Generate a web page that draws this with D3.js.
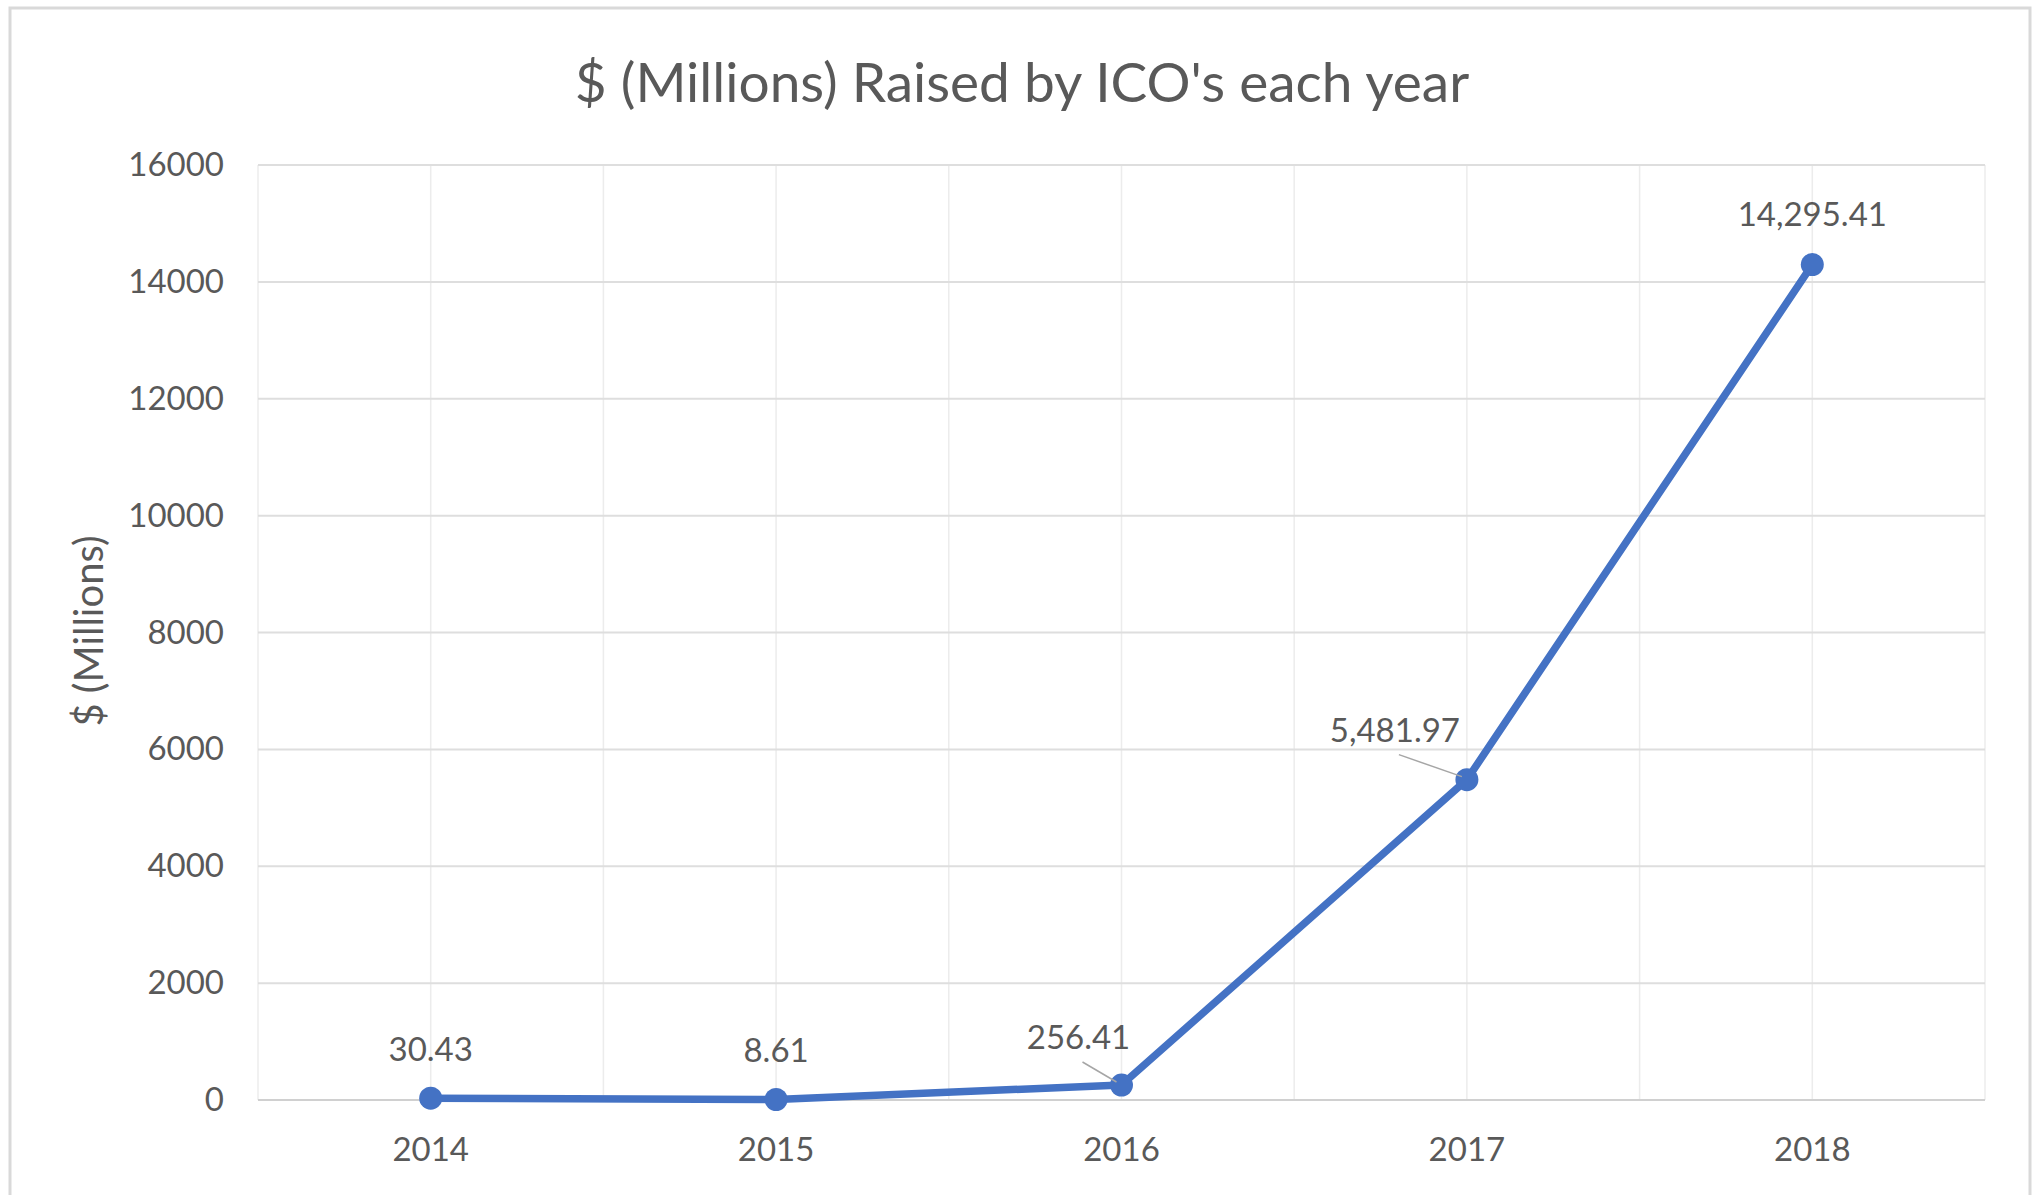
<!DOCTYPE html>
<meta charset="utf-8">
<style>
body { margin: 0; background: #fff; }
text { font-family: Lato, "Open Sans", sans-serif; fill: #595959; }
</style>
<svg width="2041" height="1195"></svg>
<script src="https://d3js.org/d3.v7.min.js"></script>
<script>
// chart data
var years = ["2014", "2015", "2016", "2017", "2018"];
var raised = [30.43, 8.61, 256.41, 5481.97, 14295.41];
var yTicks = [0, 2000, 4000, 6000, 8000, 10000, 12000, 14000, 16000];
var titleText = "$ (Millions) Raised by ICO's each year";
var yTitle = "$ (Millions)";

var svg = d3.select("svg"),
    width = +svg.attr("width"),
    height = +svg.attr("height");

// plot area
var plotLeft = 258, plotRight = 1985, plotTop = 165, plotBottom = 1100;

// outer chart border
svg.append("rect")
    .attr("x", 10).attr("y", 8)
    .attr("width", 2020).attr("height", 1200)
    .attr("fill", "none")
    .attr("stroke", "#d9d9d9")
    .attr("stroke-width", 3);

var x = d3.scaleBand().domain(years).range([plotLeft, plotRight]).padding(0);
var y = d3.scaleLinear().domain([0, 16000]).range([plotBottom, plotTop]);
var cx = function(d) { return x(d) + x.bandwidth() / 2; };

// vertical gridlines at category centres and boundaries
var vlines = [];
years.forEach(function(d) { vlines.push(x(d)); vlines.push(cx(d)); });
vlines.push(plotRight);
svg.append("g")
  .selectAll("line")
  .data(vlines)
  .enter().append("line")
    .attr("x1", function(d) { return d; })
    .attr("x2", function(d) { return d; })
    .attr("y1", plotTop).attr("y2", plotBottom)
    .attr("stroke", "#ececec")
    .attr("stroke-width", 1.5);

// horizontal gridlines
svg.append("g")
  .selectAll("line")
  .data(yTicks)
  .enter().append("line")
    .attr("x1", plotLeft).attr("x2", plotRight)
    .attr("y1", function(d) { return y(d); })
    .attr("y2", function(d) { return y(d); })
    .attr("stroke", function(d) { return d === 0 ? "#d0d0d0" : "#dedede"; })
    .attr("stroke-width", 2);

// y axis labels
var yAxis = d3.axisLeft(y).tickValues(yTicks).tickSize(0).tickPadding(34)
    .tickFormat(d3.format("d"));
var gy = svg.append("g").attr("transform", "translate(" + plotLeft + ",0)").call(yAxis);
gy.select(".domain").remove();
gy.selectAll("text").style("font-size", "33px").attr("fill", "#595959");

// x axis labels
var xAxis = d3.axisBottom(x).tickSize(0).tickPadding(38);
var gx = svg.append("g").attr("transform", "translate(0," + plotBottom + ")").call(xAxis);
gx.select(".domain").remove();
gx.selectAll("text").style("font-size", "33px").attr("fill", "#595959");
gy.attr("font-family", null); gx.attr("font-family", null);

// title
svg.append("text")
    .attr("x", 1022).attr("y", 81)
    .attr("text-anchor", "middle")
    .attr("dominant-baseline", "central")
    .style("font-size", "55px")
    .text(titleText);

// y axis title
svg.append("text")
    .attr("transform", "translate(88,631) rotate(-90)")
    .attr("text-anchor", "middle")
    .attr("dominant-baseline", "central")
    .style("font-size", "40px")
    .text(yTitle);

// series line
var line = d3.line()
    .x(function(d, i) { return cx(years[i]); })
    .y(function(d) { return y(d); });

svg.append("path")
    .datum(raised)
    .attr("d", line)
    .attr("fill", "none")
    .attr("stroke", "#4472c4")
    .attr("stroke-width", 7.5)
    .attr("stroke-linejoin", "round");

svg.append("g")
  .selectAll("circle")
  .data(raised)
  .enter().append("circle")
    .attr("cx", function(d, i) { return cx(years[i]); })
    .attr("cy", function(d) { return y(d); })
    .attr("r", 11.5)
    .attr("fill", "#4472c4");

// data labels (some moved with a leader line)
var labelShift = [[0, -50], [0, -50], [-43, -49], [-72, -51], [0, -52]];
var fmt = d3.format(",.2f");

svg.append("g")
  .selectAll("line")
  .data(raised)
  .enter().filter(function(d, i) { return labelShift[i][0] !== 0; })
  .append("line")
    .attr("x1", function(d) { var i = raised.indexOf(d); return cx(years[i]) + labelShift[i][0] + 4; })
    .attr("y1", function(d) { var i = raised.indexOf(d); return y(d) + labelShift[i][1] + 26; })
    .attr("x2", function(d) { var i = raised.indexOf(d); return cx(years[i]) - 5; })
    .attr("y2", function(d) { return y(d) - 3; })
    .attr("stroke", "#a6a6a6")
    .attr("stroke-width", 1.5);

svg.append("g")
  .selectAll("text")
  .data(raised)
  .enter().append("text")
    .attr("x", function(d, i) { return cx(years[i]) + labelShift[i][0]; })
    .attr("y", function(d, i) { return y(d) + labelShift[i][1]; })
    .attr("text-anchor", "middle")
    .attr("dominant-baseline", "central")
    .style("font-size", "33px")
    .text(function(d) { return fmt(d); });
</script>
